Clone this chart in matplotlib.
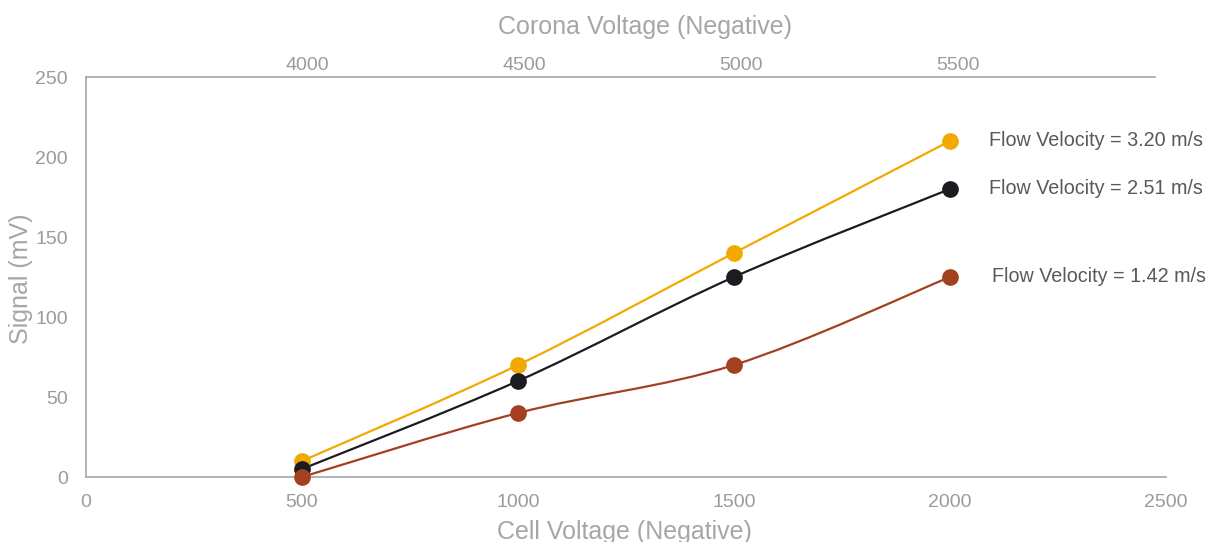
import matplotlib
matplotlib.use("Agg")
import matplotlib.pyplot as plt
from matplotlib.path import Path
from matplotlib.patches import PathPatch
import numpy as np

plt.rcParams['font.family'] = ['Liberation Sans', 'DejaVu Sans']

cell_voltage = [500, 1000, 1500, 2000]
corona_ticks = [4000, 4500, 5000, 5500]
series_names = ["Flow Velocity = 3.20 m/s", "Flow Velocity = 2.51 m/s", "Flow Velocity = 1.42 m/s"]
signal_320 = [10, 70, 140, 210]
signal_251 = [5, 60, 125, 180]
signal_142 = [0, 40, 70, 125]
colors = ["#F2A900", "#1A1C1F", "#A3401F"]

GRAY = "#a6a6a6"
TICK = "#9b9b9b"
TXT = "#595959"

fig = plt.figure(figsize=(12.09, 5.42), dpi=100)
ax = fig.add_axes([86/1209, 1-477/542, 1080/1209, 400/542])


def smooth_path(xs, ys, ax):
    # Excel-style smoothed line: cubic Bezier segments (Catmull-Rom, tension 1/6)
    pts = np.column_stack([xs, ys]).astype(float)
    disp = ax.transData.transform(pts)
    n = len(disp)
    verts = [disp[0]]
    codes = [Path.MOVETO]
    for i in range(n - 1):
        p0 = disp[i - 1] if i > 0 else disp[i]
        p1 = disp[i]
        p2 = disp[i + 1]
        p3 = disp[i + 2] if i + 2 < n else disp[i + 1]
        c1 = p1 + (p2 - p0) / 6.0
        c2 = p2 - (p3 - p1) / 6.0
        verts += [c1, c2, p2]
        codes += [Path.CURVE4] * 3
    return Path(verts, codes)


ax.set_xlim(0, 2500)
ax.set_ylim(0, 250)

all_series = [signal_320, signal_251, signal_142]
for ys, c in zip(all_series, colors):
    p = smooth_path(cell_voltage, ys, ax)
    ax.add_patch(PathPatch(p, transform=None, facecolor='none', edgecolor=c,
                           lw=1.6, zorder=3, clip_on=False))
    ax.plot(cell_voltage, ys, linestyle='none', marker='o', ms=11,
            color=c, zorder=4, clip_on=False)

label_px = [989, 989, 992]
for ys, name, px in zip(all_series, series_names, label_px):
    xd = (px - 86) / 1080 * 2500
    ax.text(xd, ys[-1], name, color=TXT, fontsize=14.2, ha='left', va='center')

ax.set_xticks([0, 500, 1000, 1500, 2000, 2500])
ax.set_yticks([0, 50, 100, 150, 200, 250])
ax.tick_params(axis='both', length=0, colors=TICK, labelsize=14)
ax.tick_params(axis='x', pad=12)
ax.tick_params(axis='y', pad=13)

for s in ['left', 'bottom']:
    ax.spines[s].set_color(GRAY)
    ax.spines[s].set_linewidth(1.2)
ax.spines['right'].set_visible(False)
ax.spines['top'].set_visible(False)

ax.set_xlabel("Cell Voltage (Negative)", fontsize=18, color=GRAY)
ax.set_ylabel("Signal (mV)", fontsize=18, color=GRAY)
ax.xaxis.set_label_coords(0.499, -0.108)
ax.yaxis.set_label_coords(-0.049, 0.495)

ax2 = ax.twiny()
ax2.set_xlim(3491, 5979)
ax2.set_xticks(corona_ticks)
ax2.tick_params(axis='x', length=0, colors=TICK, labelsize=14, pad=2.5)
ax2.spines['top'].set_color(GRAY)
ax2.spines['top'].set_linewidth(1.2)
ax2.spines['top'].set_bounds(3491, 5954)
for s in ['left', 'right', 'bottom']:
    ax2.spines[s].set_visible(False)
ax2.set_xlabel("Corona Voltage (Negative)", fontsize=18, color=GRAY)
ax2.xaxis.set_label_coords(0.518, 1.107)

fig.savefig("out.png", dpi=100)
